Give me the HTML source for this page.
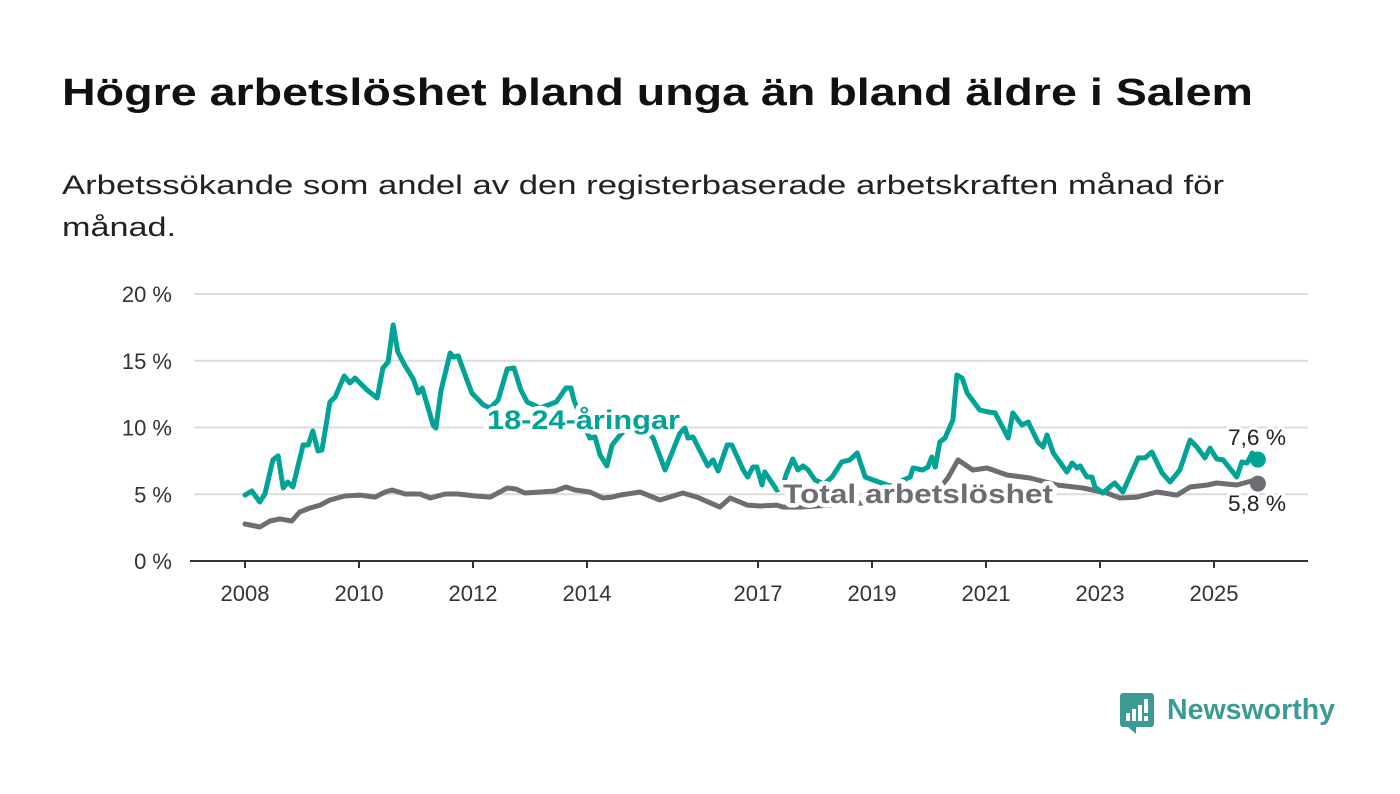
<!DOCTYPE html>
<html><head><meta charset="utf-8"><style>
body{margin:0;background:#fff;width:1400px;height:794px;overflow:hidden}
svg{display:block;font-family:"Liberation Sans","DejaVu Sans",sans-serif}
</style></head><body>
<svg id="chart" width="1400" height="794" viewBox="0 0 1400 794">
<text x="62" y="105" font-size="38" font-weight="bold" fill="#111" textLength="1191" lengthAdjust="spacingAndGlyphs">Högre arbetslöshet bland unga än bland äldre i Salem</text>
<text x="62" y="194" font-size="27" fill="#222" textLength="1162" lengthAdjust="spacingAndGlyphs">Arbetssökande som andel av den registerbaserade arbetskraften månad för</text>
<text x="62" y="236" font-size="27" fill="#222" textLength="114" lengthAdjust="spacingAndGlyphs">månad.</text>
<g id="grid"></g><g id="axes"></g><g id="series"></g><g id="labels"></g>
<g>
<rect x="1120" y="693" width="34" height="34" rx="3" fill="#3b9b94"/>
<polygon points="1128,727 1136,734 1136,727" fill="#3b9b94"/>
<rect x="1126" y="713" width="4" height="8" fill="#fff"/><rect x="1132" y="709" width="4" height="12" fill="#fff"/><rect x="1138" y="705" width="4" height="16" fill="#fff"/><rect x="1144" y="699" width="4" height="14" fill="#fff"/><rect x="1144" y="716" width="4" height="5" fill="#fff"/>
<text x="1167" y="719" font-size="29" font-weight="bold" fill="#3b9b94" textLength="168" lengthAdjust="spacingAndGlyphs">Newsworthy</text>
</g>
</svg>
<script>
const yTicks=[0,5,10,15,20];
const yTickLabels=["0 %","5 %","10 %","15 %","20 %"];
const xTicks=[2008,2010,2012,2014,2017,2019,2021,2023,2025];
const youthYears=[2008.00,2008.12,2008.26,2008.35,2008.49,2008.58,2008.67,2008.75,2008.84,2009.02,2009.11,2009.19,2009.28,2009.35,2009.49,2009.58,2009.74,2009.84,2009.93,2010.14,2010.32,2010.42,2010.51,2010.60,2010.68,2010.81,2010.95,2011.04,2011.11,2011.30,2011.35,2011.44,2011.60,2011.65,2011.74,2011.88,2011.98,2012.18,2012.30,2012.44,2012.60,2012.72,2012.84,2012.95,2013.18,2013.46,2013.63,2013.72,2013.77,2013.91,2014.05,2014.14,2014.23,2014.35,2014.44,2014.58,2014.84,2015.16,2015.37,2015.63,2015.72,2015.77,2015.86,2016.12,2016.21,2016.30,2016.46,2016.54,2016.74,2016.82,2016.91,2016.98,2017.07,2017.12,2017.33,2017.42,2017.51,2017.61,2017.70,2017.79,2017.88,2018.00,2018.16,2018.30,2018.47,2018.61,2018.74,2018.88,2019.02,2019.32,2019.67,2019.72,2019.89,2019.98,2020.05,2020.11,2020.19,2020.28,2020.42,2020.49,2020.58,2020.67,2020.89,2021.04,2021.16,2021.39,2021.47,2021.63,2021.74,2021.91,2022.00,2022.07,2022.18,2022.42,2022.51,2022.60,2022.65,2022.77,2022.86,2022.91,2023.05,2023.21,2023.26,2023.40,2023.67,2023.79,2023.91,2024.09,2024.23,2024.40,2024.58,2024.70,2024.84,2024.93,2025.05,2025.16,2025.40,2025.49,2025.58,2025.67,2025.77];
const youthValues=[4.94,5.24,4.42,5.02,7.57,7.87,5.47,5.92,5.54,8.69,8.69,9.74,8.24,8.31,11.91,12.28,13.86,13.33,13.71,12.81,12.21,14.46,14.91,17.68,15.66,14.61,13.63,12.58,12.96,10.19,9.96,12.81,15.58,15.28,15.36,13.71,12.58,11.69,11.46,12.06,14.38,14.46,12.81,11.91,11.46,11.91,12.96,12.96,12.06,10.56,9.21,9.29,7.94,7.12,8.69,9.44,10.56,9.21,6.82,9.59,9.96,9.21,9.29,7.12,7.57,6.74,8.69,8.69,6.82,6.29,7.04,7.04,5.69,6.67,5.32,5.47,6.67,7.64,6.82,7.12,6.82,6.07,5.77,6.29,7.42,7.57,8.09,6.29,6.07,5.62,6.29,6.97,6.82,7.04,7.79,7.04,8.91,9.21,10.56,13.93,13.71,12.58,11.31,11.16,11.09,9.21,11.09,10.19,10.41,8.91,8.54,9.44,8.09,6.67,7.34,6.97,7.12,6.29,6.29,5.54,5.09,5.69,5.84,5.17,7.72,7.72,8.16,6.59,5.92,6.82,9.06,8.54,7.72,8.46,7.64,7.57,6.29,7.42,7.34,8.09,7.6];
const totalYears=[2008.00,2008.18,2008.26,2008.44,2008.61,2008.82,2008.96,2009.14,2009.32,2009.49,2009.75,2010.02,2010.28,2010.46,2010.58,2010.81,2011.07,2011.25,2011.51,2011.74,2012.04,2012.30,2012.47,2012.60,2012.75,2012.91,2013.18,2013.44,2013.63,2013.79,2014.05,2014.28,2014.44,2014.58,2014.93,2015.28,2015.68,2015.93,2016.33,2016.51,2016.81,2017.04,2017.33,2017.44,2017.74,2018.26,2018.79,2019.32,2019.84,2020.19,2020.33,2020.51,2020.77,2021.02,2021.37,2021.77,2022.25,2022.70,2023.12,2023.35,2023.65,2024.00,2024.35,2024.58,2024.88,2025.05,2025.40,2025.72,2025.77];
const totalValues=[2.77,2.62,2.55,3.00,3.15,3.00,3.67,3.97,4.19,4.57,4.87,4.94,4.79,5.17,5.32,5.02,5.02,4.72,5.02,5.02,4.87,4.79,5.17,5.47,5.39,5.09,5.17,5.24,5.54,5.32,5.17,4.72,4.79,4.94,5.17,4.57,5.09,4.79,4.04,4.72,4.19,4.12,4.19,4.04,4.04,4.19,4.34,4.57,4.94,5.47,6.22,7.57,6.82,6.97,6.44,6.22,5.69,5.47,5.09,4.72,4.79,5.17,4.94,5.54,5.69,5.84,5.69,6.07,5.8];
const endLabels=["7,6 %","5,8 %"];

const NS="http://www.w3.org/2000/svg";
const X0=245,PX_PER_YEAR=57,Y0=561,PX_PER_PCT=13.35;
const xs=v=>X0+(v-2008)*PX_PER_YEAR;
const ys=v=>Y0-v*PX_PER_PCT;
function mk(tag,parent,attrs){const e=document.createElementNS(NS,tag);for(const k in attrs)e.setAttribute(k,attrs[k]);parent.appendChild(e);return e;}
const grid=document.getElementById('grid'),axes=document.getElementById('axes'),series=document.getElementById('series'),labels=document.getElementById('labels');
yTicks.forEach((t,i)=>{
  if(t>0){const l=mk('line',grid,{x1:194,x2:1308,y1:ys(t),y2:ys(t),stroke:'#dcdcdc','stroke-width':2});
  
  }
  const tx=mk('text',axes,{x:172,y:ys(t)+8,'text-anchor':'end','font-size':22,fill:'#333'});
  tx.textContent=yTickLabels[i];
  
  
});
const ax=mk('line',axes,{x1:190,x2:1308,y1:Y0,y2:Y0,stroke:'#333','stroke-width':2});


xTicks.forEach(t=>{
  const tk=mk('line',axes,{x1:xs(t),x2:xs(t),y1:Y0,y2:Y0+7,stroke:'#333','stroke-width':2});
  
  
  const tx=mk('text',axes,{x:xs(t),y:601,'text-anchor':'middle','font-size':22,fill:'#333'});
  tx.textContent=t;
  
  
});
function line(yrs,vals,color,name){
  const d=yrs.map((y,i)=>(i?'L':'M')+xs(y).toFixed(1)+','+ys(vals[i]).toFixed(1)).join('');
  const p=mk('path',series,{d:d,fill:'none',stroke:color,'stroke-width':5,'stroke-linejoin':'round','stroke-linecap':'round'});
  
  
  const n=yrs.length-1;
  const c=mk('circle',series,{cx:xs(yrs[n]),cy:ys(vals[n]),r:8,fill:color});
  
  
}
line(totalYears,totalValues,'#6f6c73','total-line');
line(youthYears,youthValues,'#00a395','youth-line');
function lbl(x,y,txt,color,len,name,bold,size){
  const t=mk('text',labels,{x:x,y:y,'font-size':size,'font-weight':bold?'bold':'normal',fill:color,stroke:'#fff','stroke-width':bold?9:6,'paint-order':'stroke','stroke-linejoin':'round',textLength:len,lengthAdjust:'spacingAndGlyphs'});
  t.textContent=txt;
  
  
}
lbl(487,429,'18-24-åringar','#00a395',193,'youth-series-label',true,27);
lbl(783,503,'Total arbetslöshet','#6f6c73',270,'total-series-label',true,27);
lbl(1228,445,endLabels[0],'#222',58,'youth-end-value',false,22);
lbl(1228,511,endLabels[1],'#222',58,'total-end-value',false,22);
</script>
</body></html>
